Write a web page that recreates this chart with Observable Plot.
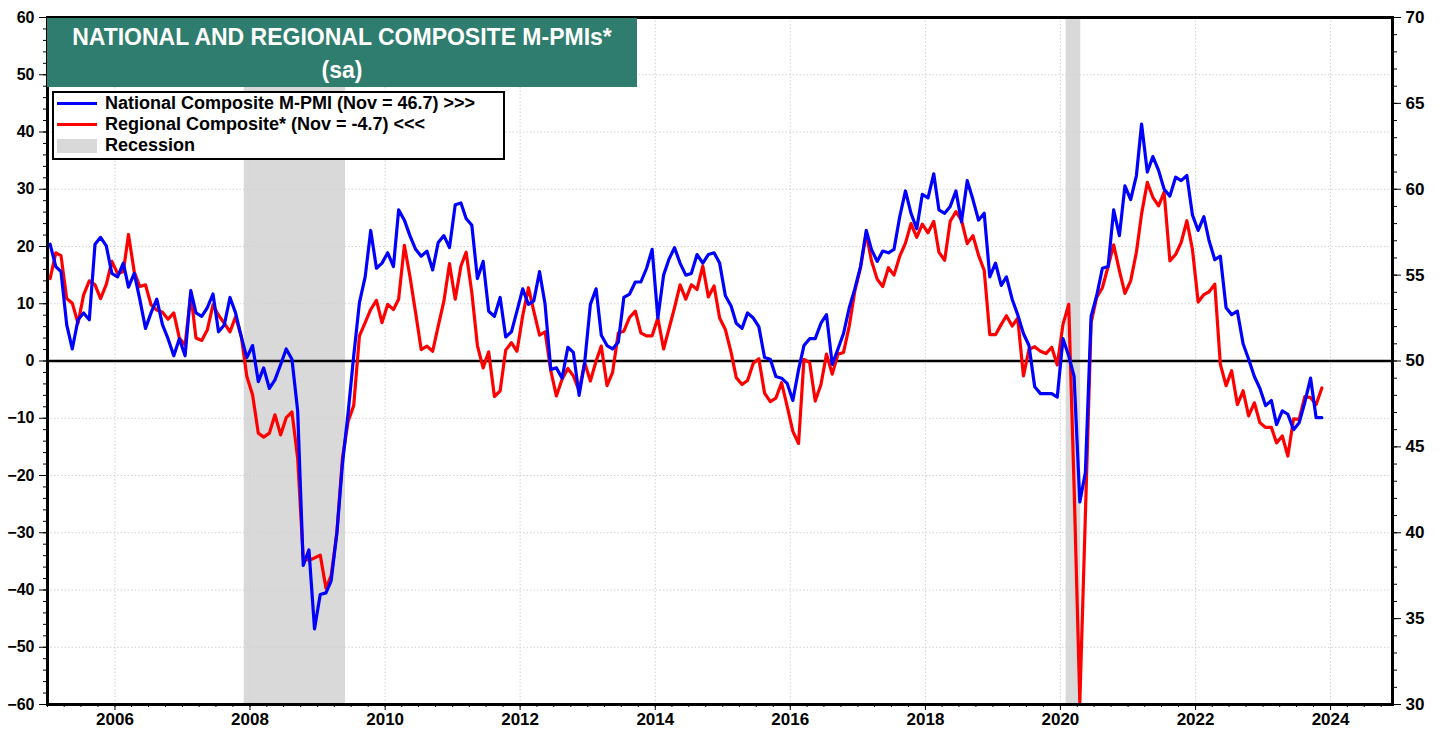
<!DOCTYPE html>
<html><head><meta charset="utf-8">
<script src="https://cdn.jsdelivr.net/npm/d3@7"></script>
<script src="https://cdn.jsdelivr.net/npm/@observablehq/plot@0.6"></script>
<style>
body{margin:0;background:#fff;}
#wrap{position:relative;width:1442px;height:734px;font-family:"Liberation Sans",Arial,sans-serif;}
#wrap svg text{font-weight:700 !important;fill:#000;font-size:16px !important;}
#wrap svg g[aria-label="y-axis tick label"][text-anchor="start"] text{font-size:17px !important;}
#wrap svg g[aria-label="x-axis tick label"] text{font-size:17px !important;}
#title{position:absolute;left:47px;top:18px;width:590px;height:69px;background:#2f7d6e;color:#fff;font-weight:bold;font-size:23px;text-align:center;line-height:33px;padding-top:3px;box-sizing:border-box;}
#legend{position:absolute;left:52px;top:91px;width:453px;height:69px;border:2px solid #000;background:#fff;box-sizing:border-box;font-weight:bold;font-size:18px;color:#000;}
.row{position:absolute;left:3px;height:21px;display:flex;align-items:center;white-space:nowrap;}
.sw{width:40px;height:3px;margin-right:8px;flex:none;}
</style></head>
<body><div id="wrap"></div>
<script>
// ---- DATA ----
const startYear = 2005; // monthly series starting Jan 2005
// National Composite M-PMI (right axis, index level)
const national = [
56.8,55.5,55.2,52.1,50.7,52.4,52.8,52.4,56.8,57.2,56.7,55.1,
54.9,55.7,54.3,55.1,53.6,51.9,52.8,53.6,52.1,51.3,50.3,51.3,
50.3,54.1,52.8,52.6,53.1,53.9,51.7,52.1,53.7,52.8,51.4,50.2,
50.9,48.8,49.6,48.4,48.9,49.8,50.7,50.1,47.1,38.1,39.0,34.4,
36.4,36.5,37.2,40.0,44.0,47.0,50.3,53.4,54.9,57.6,55.4,55.7,
56.3,55.5,58.8,58.2,57.3,56.5,56.1,56.4,55.3,56.9,57.3,56.6,
59.1,59.2,58.3,57.9,54.8,55.8,52.9,52.6,53.7,51.4,51.7,52.9,
54.2,53.3,53.5,55.2,53.3,49.5,49.6,49.0,50.8,50.5,48.0,49.9,
53.3,54.2,51.5,50.9,50.7,51.1,53.7,53.9,54.6,54.6,55.4,56.5,
52.5,55.0,55.9,56.6,55.7,55.0,55.1,56.2,55.7,56.2,56.3,55.7,
53.8,53.2,52.2,51.9,52.8,52.5,52.0,50.2,50.1,49.1,49.0,48.7,
47.7,49.5,50.9,51.3,51.3,52.2,52.7,49.8,50.7,51.6,53.1,54.2,
55.5,57.6,56.5,55.8,56.4,56.3,56.5,58.4,59.9,58.6,57.7,59.7,
59.5,60.9,58.8,58.6,59.0,59.9,58.1,60.5,59.4,58.2,58.6,54.9,
55.7,54.4,54.9,53.6,52.7,51.6,50.9,48.5,48.1,48.1,48.1,47.9,
51.3,50.3,49.1,41.8,43.5,52.6,53.8,55.4,55.5,58.8,57.3,60.2,
59.4,60.8,63.8,61.0,61.9,61.1,60.0,59.6,60.7,60.5,60.8,58.5,
57.6,58.4,57.0,55.9,56.1,53.1,52.7,52.9,51.0,50.1,49.1,48.4,
47.4,47.7,46.3,47.1,46.9,46.0,46.4,47.6,49.0,46.7,46.7
];
// Regional Composite (left axis, diffusion index)
const regional = [
14.4,18.9,18.4,10.9,10.1,6.6,11.5,14.0,13.3,10.9,13.4,17.4,
15.3,15.6,22.1,15.6,13.0,13.3,9.8,8.9,8.5,7.3,8.4,4.0,
2.8,11.7,4.0,3.6,5.4,9.8,8.0,6.6,5.1,7.7,4.3,-2.7,
-5.9,-12.6,-13.3,-12.6,-9.4,-12.9,-9.9,-8.9,-17.0,-34.5,-34.8,-34.4,
-33.9,-39.7,-37.5,-30.0,-17.0,-10.5,-7.8,4.4,6.7,9.0,10.6,6.7,
9.9,9.0,10.8,20.2,14.8,8.4,2.0,2.6,1.7,6.1,10.5,17.0,
10.8,16.6,19.0,11.9,2.7,-1.2,1.6,-6.2,-5.2,1.9,3.2,1.7,
7.9,12.8,8.7,4.5,5.1,-1.7,-6.1,-3.2,-1.3,-2.6,-5.2,-0.3,
-3.5,0.0,2.6,-4.3,-2.0,4.9,5.2,7.6,8.7,4.9,4.4,4.4,
7.5,2.1,5.5,9.3,13.3,10.8,13.3,12.5,16.6,11.2,13.1,7.5,
5.5,1.5,-2.9,-4.1,-3.4,-0.4,0.4,-5.6,-7.1,-6.5,-3.8,-7.9,
-12.3,-14.4,0.3,-0.3,-7.0,-4.1,1.2,-2.3,1.2,1.5,6.1,12.2,
16.3,22.3,17.5,14.3,13.0,16.3,15.0,18.3,20.6,24.0,21.6,23.9,
22.4,24.4,19.0,17.6,24.4,26.1,24.6,20.5,21.9,18.5,15.8,4.6,
4.6,6.4,7.9,6.1,7.5,-2.6,2.0,2.5,1.7,1.3,2.4,-0.7,
6.4,9.9,-22.0,-59.6,-27.0,6.7,11.1,12.8,16.5,20.3,15.8,11.8,
14.0,19.0,25.7,31.2,28.6,27.1,29.5,17.5,18.6,20.7,24.5,19.5,
10.3,11.6,12.1,13.4,-0.6,-4.3,-1.7,-7.6,-5.2,-9.6,-7.3,-10.8,
-11.6,-11.6,-14.3,-13.1,-16.6,-10.1,-10.2,-6.2,-6.4,-7.6,-4.7
];
const recessionStart = ["2007-12-01", "2020-02-01"];
const recessionEnd   = ["2009-06-01", "2020-04-20"];
const leftTicks  = [-60,-50,-40,-30,-20,-10,0,10,20,30,40,50,60];
const rightTicks = [30,35,40,45,50,55,60,65,70];
const yearTicks  = [2006,2008,2010,2012,2014,2016,2018,2020,2022,2024];

// ---- BUILD ----
const toLeft = v => (v - 50) * 3; // right-axis level -> left-axis units
const rows = national.map((v, i) => ({
  date: new Date(startYear, i, 15),
  national: v,
  regional: regional[i]
}));
const recessions = recessionStart.map((s, i) => ({start: new Date(s), end: new Date(recessionEnd[i])}));
const xDomain = [new Date(2005, 0, 1), new Date(2024, 11, 1)];
const quarterTicks = d3.timeMonth.every(3).range(xDomain[0], xDomain[1]);
const font = "Liberation Sans, Arial, sans-serif";

const chart = Plot.plot({
  width: 1442, height: 734,
  marginTop: 17, marginBottom: 30, marginLeft: 47, marginRight: 50,
  x: {type: "time", domain: xDomain, label: null},
  y: {domain: [-60, 60], label: null},
  style: {fontFamily: font, fontWeight: "bold", fontSize: "16px", color: "black", background: "white", overflow: "visible"},
  marks: [
    Plot.rect(recessions, {x1: "start", x2: "end", fill: "#d9d9d9"}),
    Plot.gridY({ticks: leftTicks, stroke: "#d2d2d2", strokeOpacity: 1, strokeDasharray: "1.5,2"}),
    Plot.gridX({ticks: yearTicks.map(y => new Date(y, 0, 1)), stroke: "#d2d2d2", strokeOpacity: 1, strokeDasharray: "1.5,2"}),
    Plot.ruleY([0], {stroke: "black", strokeWidth: 2.5}),
    Plot.lineY(rows, {x: "date", y: "regional", stroke: "#ff0000", strokeWidth: 3.2}),
    Plot.lineY(rows, {x: "date", y: d => toLeft(d.national), stroke: "#0000ff", strokeWidth: 3.2}),
    Plot.frame({stroke: "black", strokeWidth: 3}),
    // left axis
    Plot.axisY({anchor: "left", ticks: d3.range(-60, 61, 2), tickSize: 4, tickFormat: () => "", label: null}),
    Plot.axisY({anchor: "left", ticks: leftTicks, tickSize: 8, tickPadding: 5, label: null}),
    // right axis (national level)
    Plot.axisY({anchor: "right", ticks: d3.range(-60, 61, 3), tickSize: 4, tickFormat: () => "", label: null}),
    Plot.axisY({anchor: "right", ticks: rightTicks.map(toLeft), tickSize: 8, tickPadding: 5,
      tickFormat: d => String(Math.round(50 + d / 3)), label: null}),
    // bottom axis
    Plot.axisX({ticks: quarterTicks, tickSize: 3, tickFormat: () => "", label: null}),
    Plot.axisX({ticks: yearTicks.map(y => new Date(y, 0, 1)), tickSize: 6, tickPadding: 2,
      tickFormat: d3.timeFormat("%Y"), label: null})
  ]
});

const wrap = document.getElementById("wrap");
wrap.appendChild(chart);

const title = document.createElement("div");
title.id = "title";
title.innerHTML = "NATIONAL AND REGIONAL COMPOSITE M-PMIs*<br>(sa)";
wrap.appendChild(title);

const legendItems = [
  {label: "National Composite M-PMI (Nov = 46.7) >>>", color: "#0000ff", kind: "line"},
  {label: "Regional Composite* (Nov = -4.7) <<<", color: "#ff0000", kind: "line"},
  {label: "Recession", color: "#d9d9d9", kind: "box"}
];
const legend = document.createElement("div");
legend.id = "legend";
legendItems.forEach((it, i) => {
  const r = document.createElement("div");
  r.className = "row";
  r.style.top = (i * 21) + "px";
  const sw = document.createElement("span");
  sw.className = "sw";
  sw.style.background = it.color;
  if (it.kind === "box") sw.style.height = "14px";
  r.appendChild(sw);
  const t = document.createElement("span");
  t.textContent = it.label;
  r.appendChild(t);
  legend.appendChild(r);
});
wrap.appendChild(legend);
</script>
</body></html>
